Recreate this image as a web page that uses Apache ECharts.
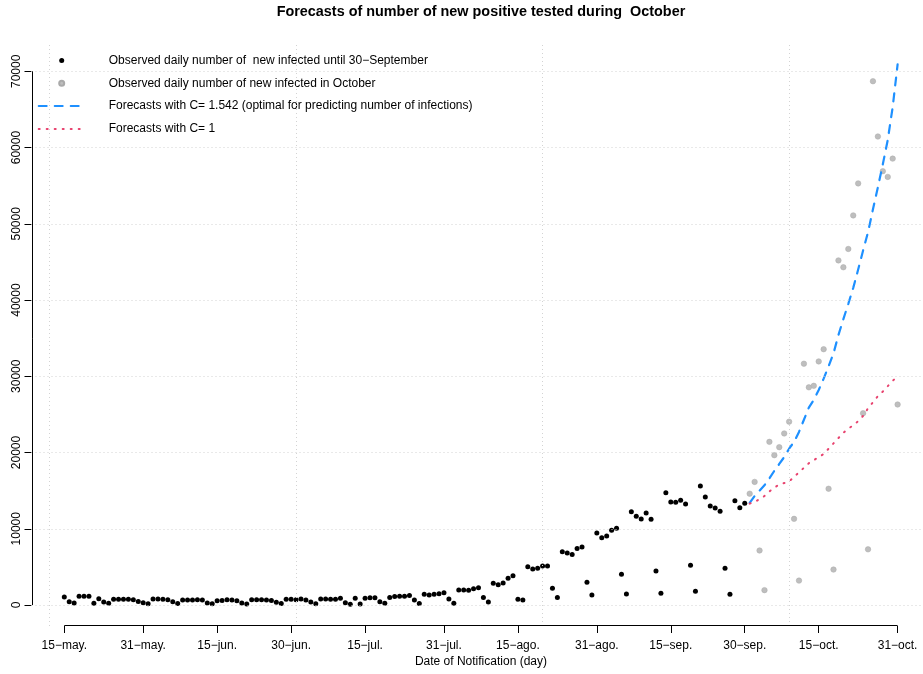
<!DOCTYPE html>
<html><head><meta charset="utf-8">
<script src="https://cdn.jsdelivr.net/npm/echarts@6/dist/echarts.min.js"></script>
<style>html,body{margin:0;padding:0;background:#fff}#c{width:923px;height:674px}</style>
</head><body><div id="c"></div>
<script>
// Day index 0 = 15-May; observed values 15-May .. 30-Sep
const observedUntilSep = [
  1050, 420, 250, 1150, 1150, 1150, 220, 830, 380, 220, 760, 760, 760, 740,
  680, 450, 280, 170, 790, 790, 760, 700, 420, 190, 640, 640, 650, 680,
  640, 260, 170, 560, 600, 700, 650, 560, 260, 130, 700, 700, 700, 650,
  600, 350, 200, 750, 750, 700, 800, 650, 400, 170, 800, 800, 750, 750,
  880, 310, 100, 870, 140, 870, 960, 960, 440, 220, 1000, 1100, 1150, 1150,
  1260, 660, 210, 1400, 1310, 1400, 1490, 1610, 790, 230, 1970, 1960, 1930, 2140,
  2270, 1000, 410, 2840, 2660, 2890, 3500, 3850, 750, 650, 5030, 4710, 4810, 5120,
  5110, 2190, 1000, 7000, 6810, 6630, 7400, 7600, 3000, 1310, 9460, 8830, 9050, 9790,
  10060, 4020, 1440, 12240, 11630, 11280, 12070, 11240, 4460, 1530, 14730, 13510, 13470, 13730,
  13250, 5200, 1790, 15610, 14170, 12990, 12720, 12290, 4810, 1400, 13690, 12770, 13340
];
// 1-Oct .. 31-Oct
const observedOctober = [
  14600, 16150, 7150, 1950, 21400, 19650, 20700, 22500, 24050, 11300, 3200,
  31650, 28550, 28750, 31950, 33550, 15250, 4650, 45200, 44300, 46700, 51100,
  55300, 25150, 7300, 68700, 61450, 56900, 56150, 58550, 26300
];
const forecastC1542 = [
  13400, 14300, 15000, 15700, 16600, 17600, 18500, 19400, 20500, 21400, 22700,
  24300, 25900, 26900, 28200, 29700, 31300, 33000, 35400, 37500, 39500, 41600,
  44000, 46500, 48900, 51900, 54800, 57800, 61000, 65300, 70900
];
const forecastC1 = [
  13300, 13500, 13900, 14300, 14900, 15400, 15800, 16000, 16200, 16800, 17400,
  18000, 18600, 19000, 19400, 19800, 20500, 21200, 21900, 22600, 23100, 23600,
  24100, 24800, 25800, 26600, 27400, 28000, 28700, 29400, 30000
];
const octoberStartDay = 139;
const xTickDays = [0, 16, 31, 46, 61, 77, 92, 108, 123, 138, 153, 169];
const xTickLabels = ['15−may.', '31−may.', '15−jun.', '30−jun.', '15−jul.', '31−jul.',
                     '15−ago.', '31−ago.', '15−sep.', '30−sep.', '15−oct.', '31−oct.'];
const yTickValues = [0, 10000, 20000, 30000, 40000, 50000, 60000, 70000];
const gridDays = [-3, 47, 97, 147];

const seriesNames = [
  'Observed daily number of  new infected until 30−September',
  'Observed daily number of new infected in October',
  'Forecasts with C= 1.542 (optimal for predicting number of infections)',
  'Forecasts with C= 1'
];
const titleText = 'Forecasts of number of new positive tested during  October';
const xAxisTitle = 'Date of Notification (day)';

const FONT = '"Liberation Sans", Arial, Helvetica, sans-serif';
const xMin = -6.65, xMax = 174.15, yMin = -2754, yMax = 73636;
const BLUE = '#1E90FF', PINK = '#E8436F';

const chart = echarts.init(document.getElementById('c'), null, {renderer: 'canvas'});
const hiddenSymbol = {color: 'rgba(0,0,0,0)', borderColor: 'rgba(0,0,0,0)', borderWidth: 0, opacity: 0};
const option = {
  animation: false,
  backgroundColor: '#fff',
  grid: {left: 31.5, right: 0, top: 43.6, bottom: 48, containLabel: false},
  xAxis: {
    type: 'value', min: xMin, max: xMax, scale: true,
    axisLine: {show: false, onZero: false},
    splitLine: {show: false},
    axisTick: {show: true, customValues: xTickDays, length: 7, lineStyle: {color: '#000', width: 1}},
    axisLabel: {show: true, customValues: xTickDays, margin: 14, color: '#000', fontFamily: FONT, fontSize: 12,
      formatter: v => xTickLabels[xTickDays.indexOf(Math.round(v))] || ''}
  },
  yAxis: {
    type: 'value', min: yMin, max: yMax, scale: true,
    axisLine: {show: false, onZero: false},
    splitLine: {show: false},
    axisTick: {show: true, customValues: yTickValues, length: 7, lineStyle: {color: '#000', width: 1}},
    axisLabel: {show: true, customValues: yTickValues, rotate: 90, margin: 9, color: '#000', fontFamily: FONT, fontSize: 12,
      formatter: v => String(v)}
  },
  legend: {
    orient: 'vertical', left: 37.7, top: 53.5, padding: 0,
    itemWidth: 46, itemHeight: 5, itemGap: 8.8,
    selectedMode: false,
    textStyle: {fontFamily: FONT, fontSize: 12, color: '#000', lineHeight: 14, padding: [0, 0, 0, 19]},
    data: [
      {name: seriesNames[0]},
      {name: seriesNames[1]},
      {name: seriesNames[2], itemStyle: hiddenSymbol},
      {name: seriesNames[3], itemStyle: hiddenSymbol}
    ]
  },
  series: [
    {
      name: 'grid', type: 'line', data: [], silent: true, z: 0,
      markLine: {
        silent: true, symbol: ['none', 'none'], label: {show: false}, animation: false,
        lineStyle: {color: '#d3d3d3', type: [1, 3], width: 1},
        emphasis: {disabled: true},
        data: gridDays.map(d => ({xAxis: d})).concat(yTickValues.map(v => ({yAxis: v})))
      }
    },
    {
      name: seriesNames[0], type: 'scatter', symbol: 'circle', symbolSize: 5, z: 3,
      itemStyle: {color: '#000', opacity: 1},
      data: observedUntilSep.map((v, i) => [i, v])
    },
    {
      name: seriesNames[1], type: 'scatter', symbol: 'circle', symbolSize: 5.5, z: 3,
      itemStyle: {color: '#bebebe', borderColor: '#aaaaaa', borderWidth: 0.5, opacity: 1},
      data: observedOctober.map((v, i) => [octoberStartDay + i, v])
    },
    {
      name: seriesNames[2], type: 'line', showSymbol: false, symbol: 'none', z: 4,
      itemStyle: {color: BLUE},
      lineStyle: {color: BLUE, width: 2.2, type: [8, 8], cap: 'round'},
      data: forecastC1542.map((v, i) => [octoberStartDay + i, v])
    },
    {
      name: seriesNames[3], type: 'line', showSymbol: false, symbol: 'none', z: 4,
      itemStyle: {color: PINK},
      lineStyle: {color: PINK, width: 2, type: [1, 7], cap: 'round'},
      data: forecastC1.map((v, i) => [octoberStartDay + i, v])
    }
  ]
};
chart.setOption(option);

// R-style axis lines: only from first to last tick; titles centred on the data range
const px = (x, y) => chart.convertToPixel({gridIndex: 0}, [x, y]);
const xa0 = px(xTickDays[0], yMin), xa1 = px(xTickDays[xTickDays.length - 1], yMin);
const ya0 = px(xMin, yTickValues[0]), ya1 = px(xMin, yTickValues[yTickValues.length - 1]);
const yLine = Math.round(xa0[1]) - 0.5;
const xLine = Math.round(ya0[0]) + 0.5;
const midX = (px(xTickDays[0], 0)[0] + px(xTickDays[xTickDays.length - 1], 0)[0]) / 2;
chart.setOption({
  graphic: [
    {type: 'text', x: midX, y: 5, style: {text: titleText, font: 'bold 14.4px ' + FONT, fill: '#000', align: 'center', verticalAlign: 'top'}, z: 10},
    {type: 'text', x: midX, y: 656, style: {text: xAxisTitle, font: '12px ' + FONT, fill: '#000', align: 'center', verticalAlign: 'top'}, z: 10},
    {type: 'line', shape: {x1: xa0[0], y1: yLine, x2: xa1[0], y2: yLine}, style: {stroke: '#000', lineWidth: 1}, z: 10},
    {type: 'line', shape: {x1: xLine, y1: ya0[1], x2: xLine, y2: ya1[1]}, style: {stroke: '#000', lineWidth: 1}, z: 10}
  ]
});
</script>
</body></html>
